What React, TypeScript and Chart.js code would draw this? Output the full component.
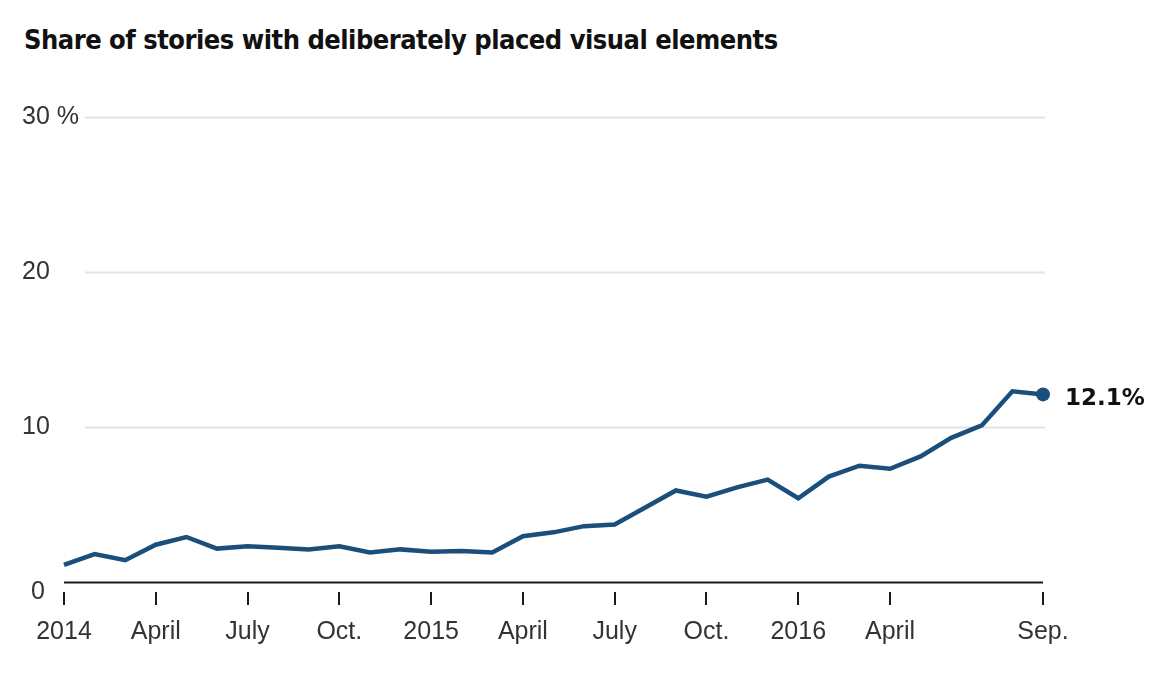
import { useEffect, useRef } from "react";
import { Chart, registerables, Plugin } from "chart.js";

Chart.register(...registerables);

// monthly, Jan 2014 - Sep 2016
const months = [
  "Jan 2014", "Feb 2014", "Mar 2014", "Apr 2014", "May 2014", "Jun 2014",
  "Jul 2014", "Aug 2014", "Sep 2014", "Oct 2014", "Nov 2014", "Dec 2014",
  "Jan 2015", "Feb 2015", "Mar 2015", "Apr 2015", "May 2015", "Jun 2015",
  "Jul 2015", "Aug 2015", "Sep 2015", "Oct 2015", "Nov 2015", "Dec 2015",
  "Jan 2016", "Feb 2016", "Mar 2016", "Apr 2016", "May 2016", "Jun 2016",
  "Jul 2016", "Aug 2016", "Sep 2016",
];

// share of stories (%)
const shares = [
  1.1, 1.8, 1.4, 2.4, 2.9, 2.15, 2.3, 2.2, 2.1, 2.3, 1.9, 2.1,
  1.95, 2.0, 1.9, 2.95, 3.2, 3.6, 3.7, 4.8, 5.9, 5.5, 6.1, 6.6,
  5.4, 6.8, 7.5, 7.3, 8.1, 9.3, 10.1, 12.3, 12.1,
];

// x tick labels, empty = no tick
const tickLabels = [
  "2014", "", "", "April", "", "", "July", "", "", "Oct.", "", "",
  "2015", "", "", "April", "", "", "July", "", "", "Oct.", "", "",
  "2016", "", "", "April", "", "", "", "", "Sep.",
];

const yTicks = [0, 10, 20, 30];
const yTickLabels = ["0", "10", "20", "30 %"];

const LINE = "#1b4f7b";
const AXIS_FONT = "'Liberation Sans', Arial, sans-serif";

// gridlines, baseline, y labels and end label
const overlay: Plugin<"line"> = {
  id: "overlay",
  beforeDatasetsDraw(chart) {
    const { ctx, chartArea } = chart;
    const y = chart.scales.y;
    ctx.save();
    yTicks.forEach((v, i) => {
      const py = Math.round(y.getPixelForValue(v)) + 0.5;
      ctx.beginPath();
      if (v === 0) {
        ctx.strokeStyle = "#1a1a1a";
        ctx.lineWidth = 2;
        ctx.moveTo(chartArea.left, py);
        ctx.lineTo(chartArea.right, py);
      } else {
        ctx.strokeStyle = "#e8e1ec";
        ctx.lineWidth = 2;
        ctx.moveTo(chartArea.left + 21, py);
        ctx.lineTo(chartArea.right + 2, py);
      }
      ctx.stroke();

      ctx.fillStyle = "#333";
      ctx.font = `25px ${AXIS_FONT}`;
      ctx.textBaseline = "middle";
      ctx.textAlign = "left";
      const lx = v === 0 ? 31 : 22;
      const ly = v === 0 ? py + 10 : py;
      ctx.fillText(yTickLabels[i], lx, ly);
    });
    ctx.restore();
  },
  afterDatasetsDraw(chart) {
    const { ctx } = chart;
    const meta = chart.getDatasetMeta(0);
    const last = meta.data[meta.data.length - 1];
    const value = shares[shares.length - 1];
    ctx.save();
    ctx.fillStyle = "#111";
    ctx.font = "bold 23px 'DejaVu Sans', sans-serif";
    ctx.textBaseline = "middle";
    ctx.textAlign = "left";
    ctx.fillText(`${value}%`, last.x + 22, last.y + 5);
    ctx.restore();
  },
};

export default function App() {
  const chartRef = useRef<HTMLCanvasElement | null>(null);

  useEffect(() => {
    document.body.style.margin = "0";
    if (!chartRef.current) return;
    const lastIndex = shares.length - 1;
    const myChart = new Chart(chartRef.current, {
      type: "line",
      data: {
        labels: months,
        datasets: [
          {
            data: shares,
            borderColor: LINE,
            backgroundColor: LINE,
            borderWidth: 4.5,
            tension: 0,
            clip: false,
            pointRadius: (c) => (c.dataIndex === lastIndex ? 7 : 0),
            pointHoverRadius: 0,
            pointBorderWidth: 0,
          },
        ],
      },
      options: {
        animation: false,
        responsive: false,
        maintainAspectRatio: false,
        layout: {
          padding: { left: 64, right: 125, top: 117, bottom: 0 },
        },
        plugins: {
          legend: { display: false },
          tooltip: { enabled: false },
        },
        scales: {
          x: {
            type: "category",
            offset: false,
            border: { display: false },
            grid: {
              drawOnChartArea: false,
              drawTicks: true,
              tickLength: 13,
              color: "#1a1a1a",
              lineWidth: 2,
            },
            ticks: {
              autoSkip: false,
              maxRotation: 0,
              padding: 12,
              color: "#333",
              font: { size: 25, family: AXIS_FONT },
              callback: (_v, i) => (tickLabels[i] ? tickLabels[i] : null),
            },
            afterFit: (scale) => {
              scale.height = 90;
            },
          },
          y: {
            display: false,
            min: -0.65,
            max: 30,
          },
        },
      },
      plugins: [overlay],
    });
    return () => {
      myChart.destroy();
    };
  }, [chartRef]);

  return (
    <div style={{ position: "relative", width: 1168, height: 682, background: "#fff" }}>
      <div
        style={{
          position: "absolute",
          left: 24,
          top: 25,
          fontFamily: "'DejaVu Sans Condensed', 'Liberation Sans', sans-serif",
          fontWeight: "bold",
          fontSize: 27,
          letterSpacing: "-0.5px",
          lineHeight: "29px",
          color: "#111",
          whiteSpace: "nowrap",
        }}
      >
        Share of stories with deliberately placed visual elements
      </div>
      <canvas ref={chartRef} width={1168} height={682} style={{ position: "absolute", left: 0, top: 0 }} />
    </div>
  );
}
